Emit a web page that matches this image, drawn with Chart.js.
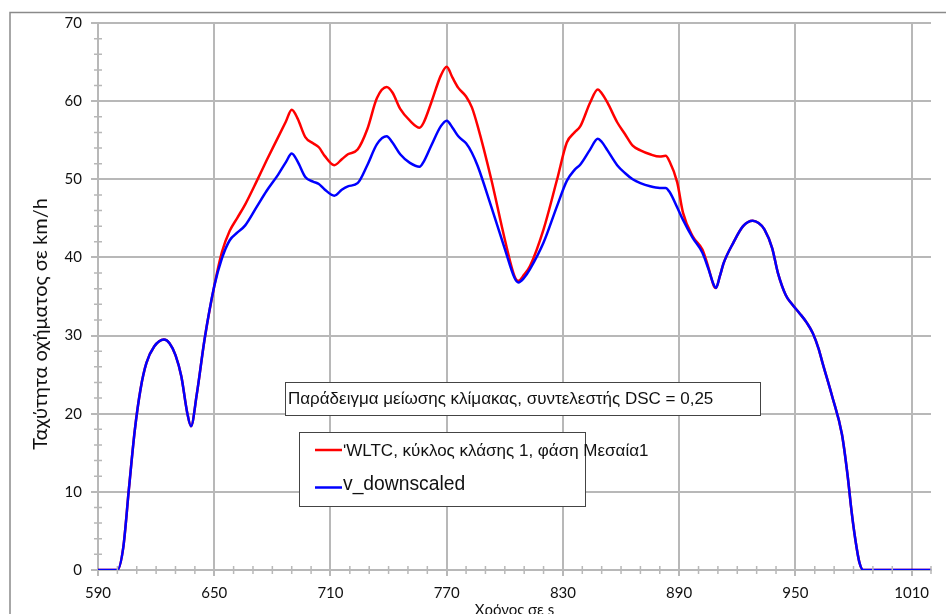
<!DOCTYPE html>
<html>
<head>
<meta charset="utf-8">
<script src="https://cdn.jsdelivr.net/npm/chart.js@4/dist/chart.umd.min.js"></script>
<style>
  html, body { margin: 0; padding: 0; background: #fff; }
  #wrap { width: 946px; height: 614px; position: relative; }
</style>
</head>
<body>
<div id="wrap"><canvas id="grafico"></canvas></div>
<script>
// χρόνος (s) και ταχύτητες (km/h) όπως διαβάζονται από το διάγραμμα
const timeS = [590, 600, 603, 606, 609, 612, 615, 619, 624, 627, 630, 633, 636, 638, 641, 645, 650,
  654, 658, 662, 666, 672, 677, 683, 687, 690, 693, 697, 701, 704, 707, 712, 716, 719, 724, 729,
  734, 739, 742, 746, 751, 756, 758, 762, 767, 770, 773, 776, 780, 783, 786, 793, 800, 805, 807,
  810, 813, 820, 827, 832, 836, 839, 844, 848, 850, 853, 858, 862, 866, 870, 875, 880, 883, 885,
  889, 892, 897, 902, 905, 908, 909, 911, 913, 918, 923, 928, 931, 934, 938, 941, 945, 948, 952,
  956, 959, 962, 964, 969, 974, 977, 979, 981, 983, 985, 1020];

const wltcSpeed = [0, 0, 2.8, 10.5, 17.9, 23.2, 26.5, 28.6, 29.5, 29.0, 27.5, 24.8, 20.2, 18.4, 22.5, 29.5, 36.3,
  40.7, 43.4, 45.1, 46.8, 49.8, 52.4, 55.4, 57.4, 58.9, 57.8, 55.4, 54.6, 54.1, 53.0, 51.8, 52.6, 53.2, 53.8, 56.4,
  60.4, 61.8, 61.1, 59.0, 57.5, 56.6, 57.2, 59.8, 63.3, 64.4, 63.0, 61.7, 60.6, 59.2, 56.8, 50.0, 42.3, 37.6, 37.0,
  37.8, 38.9, 43.6, 50.0, 54.7, 56.0, 56.8, 59.8, 61.5, 61.0, 59.8, 57.3, 55.8, 54.3, 53.7, 53.2, 52.9, 53.0, 52.3,
  49.6, 45.7, 42.7, 41.0, 38.8, 36.3, 36.1, 37.6, 39.3, 41.9, 44.0, 44.7, 44.4, 43.6, 41.2, 38.0, 35.2, 34.1, 32.9,
  31.6, 30.3, 28.3, 26.5, 22.2, 17.4, 12.0, 7.5, 3.8, 1.0, 0, 0];

const downscaledSpeed = [0, 0, 2.8, 10.5, 17.9, 23.2, 26.5, 28.6, 29.5, 29.0, 27.5, 24.8, 20.2, 18.4, 22.5, 29.5, 36.3,
  39.9, 42.2, 43.2, 44.1, 46.5, 48.5, 50.6, 52.2, 53.3, 52.3, 50.3, 49.7, 49.4, 48.7, 47.9, 48.7, 49.1, 49.5, 51.8,
  54.5, 55.5, 54.7, 53.2, 52.1, 51.6, 52.2, 54.3, 56.8, 57.5, 56.6, 55.5, 54.6, 53.4, 51.7, 46.5, 41.1, 37.4, 36.8,
  37.4, 38.5, 41.9, 46.6, 49.8, 51.2, 51.9, 53.8, 55.2, 54.8, 53.7, 51.8, 50.8, 50.0, 49.5, 49.1, 48.9, 48.9, 48.4,
  46.4, 44.8, 42.5, 40.6, 38.6, 36.4, 36.1, 37.6, 39.3, 41.9, 44.0, 44.7, 44.4, 43.6, 41.2, 38.0, 35.2, 34.1, 32.9,
  31.6, 30.3, 28.3, 26.5, 22.2, 17.4, 12.0, 7.5, 3.8, 1.0, 0, 0];

const xTicks = [590, 650, 710, 770, 830, 890, 950, 1010];
const yTicks = [0, 10, 20, 30, 40, 50, 60, 70];

const seriesNames = ['\u02B9WLTC, κύκλος κλάσης 1, φάση Μεσαία1', 'v_downscaled'];
const boxTitle = 'Παράδειγμα μείωσης κλίμακας, συντελεστής DSC = 0,25';
const yTitle = 'Ταχύτητα οχήματος σε km/h';

const gridGray = '#b8b8b8';
const boxFont = '"Liberation Sans", Arial, sans-serif';

const pontos = (ys) => timeS.map((t, i) => ({ x: t, y: ys[i] }));

// μικρές υποδιαιρέσεις στους άξονες + πλαίσια
const extras = {
  id: 'extras',
  beforeDraw(chart) {
    const c = chart.ctx;
    c.save();
    c.strokeStyle = '#8a8a8a';
    c.lineWidth = 1.5;
    c.beginPath();
    c.moveTo(10, 640);
    c.lineTo(10, 12.5);
    c.lineTo(960, 12.5);
    c.stroke();
    // τίτλος άξονα y (λίγο πιο χαμηλά από το κέντρο, όπως στο πρωτότυπο)
    c.translate(41, 324);
    c.rotate(-Math.PI / 2);
    c.fillStyle = '#111';
    c.font = '20px Lato';
    c.textAlign = 'center';
    c.textBaseline = 'middle';
    c.fillText(yTitle, 0, 0);
    c.restore();
  },
  afterDatasetsDraw(chart) {
    const c = chart.ctx;
    const xs = chart.scales.x, ys = chart.scales.y;
    c.save();
    c.strokeStyle = gridGray;
    c.lineWidth = 1.5;
    c.beginPath();
    for (let v = xs.min; v <= xs.max; v += 10) {
      if ((v - 590) % 60 === 0) continue;
      const px = xs.getPixelForValue(v);
      c.moveTo(px, ys.bottom - 4);
      c.lineTo(px, ys.bottom + 4);
    }
    for (let v = ys.min; v <= ys.max; v += 2) {
      if (v % 10 === 0) continue;
      const py = ys.getPixelForValue(v);
      c.moveTo(xs.left - 4, py);
      c.lineTo(xs.left + 4, py);
    }
    c.stroke();
    c.restore();
  },
  afterDraw(chart) {
    const c = chart.ctx;
    c.save();
    c.textBaseline = 'alphabetic';
    // πλαίσιο τίτλου
    c.fillStyle = '#fff';
    c.fillRect(285, 382, 475, 33);
    c.strokeStyle = '#444';
    c.lineWidth = 1;
    c.strokeRect(285.5, 382.5, 475, 33);
    c.fillStyle = '#111';
    c.font = '17px ' + boxFont;
    c.fillText(boxTitle, 288, 403.5);

    // υπόμνημα
    c.fillStyle = '#fff';
    c.fillRect(299, 432, 286, 74);
    c.strokeStyle = '#444';
    c.strokeRect(299.5, 432.5, 286, 74);
    const colors = [chart.data.datasets[0].borderColor, chart.data.datasets[1].borderColor];
    const rows = [450, 487.5];
    const sizes = [17, 19.3];
    const baseY = [455.5, 489.5];
    for (let i = 0; i < 2; i++) {
      c.strokeStyle = colors[i];
      c.lineWidth = 2.5;
      c.beginPath();
      c.moveTo(315, rows[i]);
      c.lineTo(342, rows[i]);
      c.stroke();
      c.fillStyle = '#111';
      c.font = sizes[i] + 'px ' + boxFont;
      c.fillText(seriesNames[i], 343, baseY[i]);
    }
    c.restore();
  }
};

new Chart(document.getElementById('grafico').getContext('2d'), {
  type: 'line',
  data: {
    datasets: [{
      label: seriesNames[0],
      data: pontos(wltcSpeed),
      borderColor: '#ff0000',
      borderWidth: 2.5,
      pointRadius: 0,
      cubicInterpolationMode: 'monotone',
      order: 2
    }, {
      label: seriesNames[1],
      data: pontos(downscaledSpeed),
      borderColor: '#0000ff',
      borderWidth: 2.5,
      pointRadius: 0,
      cubicInterpolationMode: 'monotone',
      order: 1
    }]
  },
  options: {
    responsive: true,
    maintainAspectRatio: false,
    animation: false,
    layout: { padding: { top: 23, right: 15, left: 0, bottom: 0 } },
    plugins: {
      legend: { display: false },
      tooltip: { enabled: false }
    },
    scales: {
      x: {
        type: 'linear',
        min: 590,
        max: 1020,
        afterBuildTicks: (s) => { s.ticks = xTicks.map(v => ({ value: v })); },
        afterFit: (s) => { s.height = 44; },
        grid: { color: gridGray, lineWidth: 2, tickLength: 6, tickColor: gridGray },
        border: { display: true, color: gridGray, width: 2 },
        ticks: {
          color: '#111',
          padding: 8,
          maxRotation: 0,
          callback: (v) => String(v),
          font: { family: 'Lato', size: 15 }
        },
        title: {
          display: true,
          text: 'Χρόνος σε s',
          color: '#111',
          font: { family: 'Lato', size: 15 },
          padding: { top: 0, bottom: -5 }
        }
      },
      y: {
        min: 0,
        max: 70,
        afterBuildTicks: (s) => { s.ticks = yTicks.map(v => ({ value: v })); },
        afterFit: (s) => { s.width = 98; },
        grid: { color: gridGray, lineWidth: 2, tickLength: 7, tickColor: gridGray },
        border: { display: true, color: gridGray, width: 2 },
        ticks: {
          color: '#111',
          padding: 9,
          callback: (v) => String(v),
          font: { family: 'Lato', size: 15 }
        }
      }
    }
  },
  plugins: [extras]
});
</script>
</body>
</html>
